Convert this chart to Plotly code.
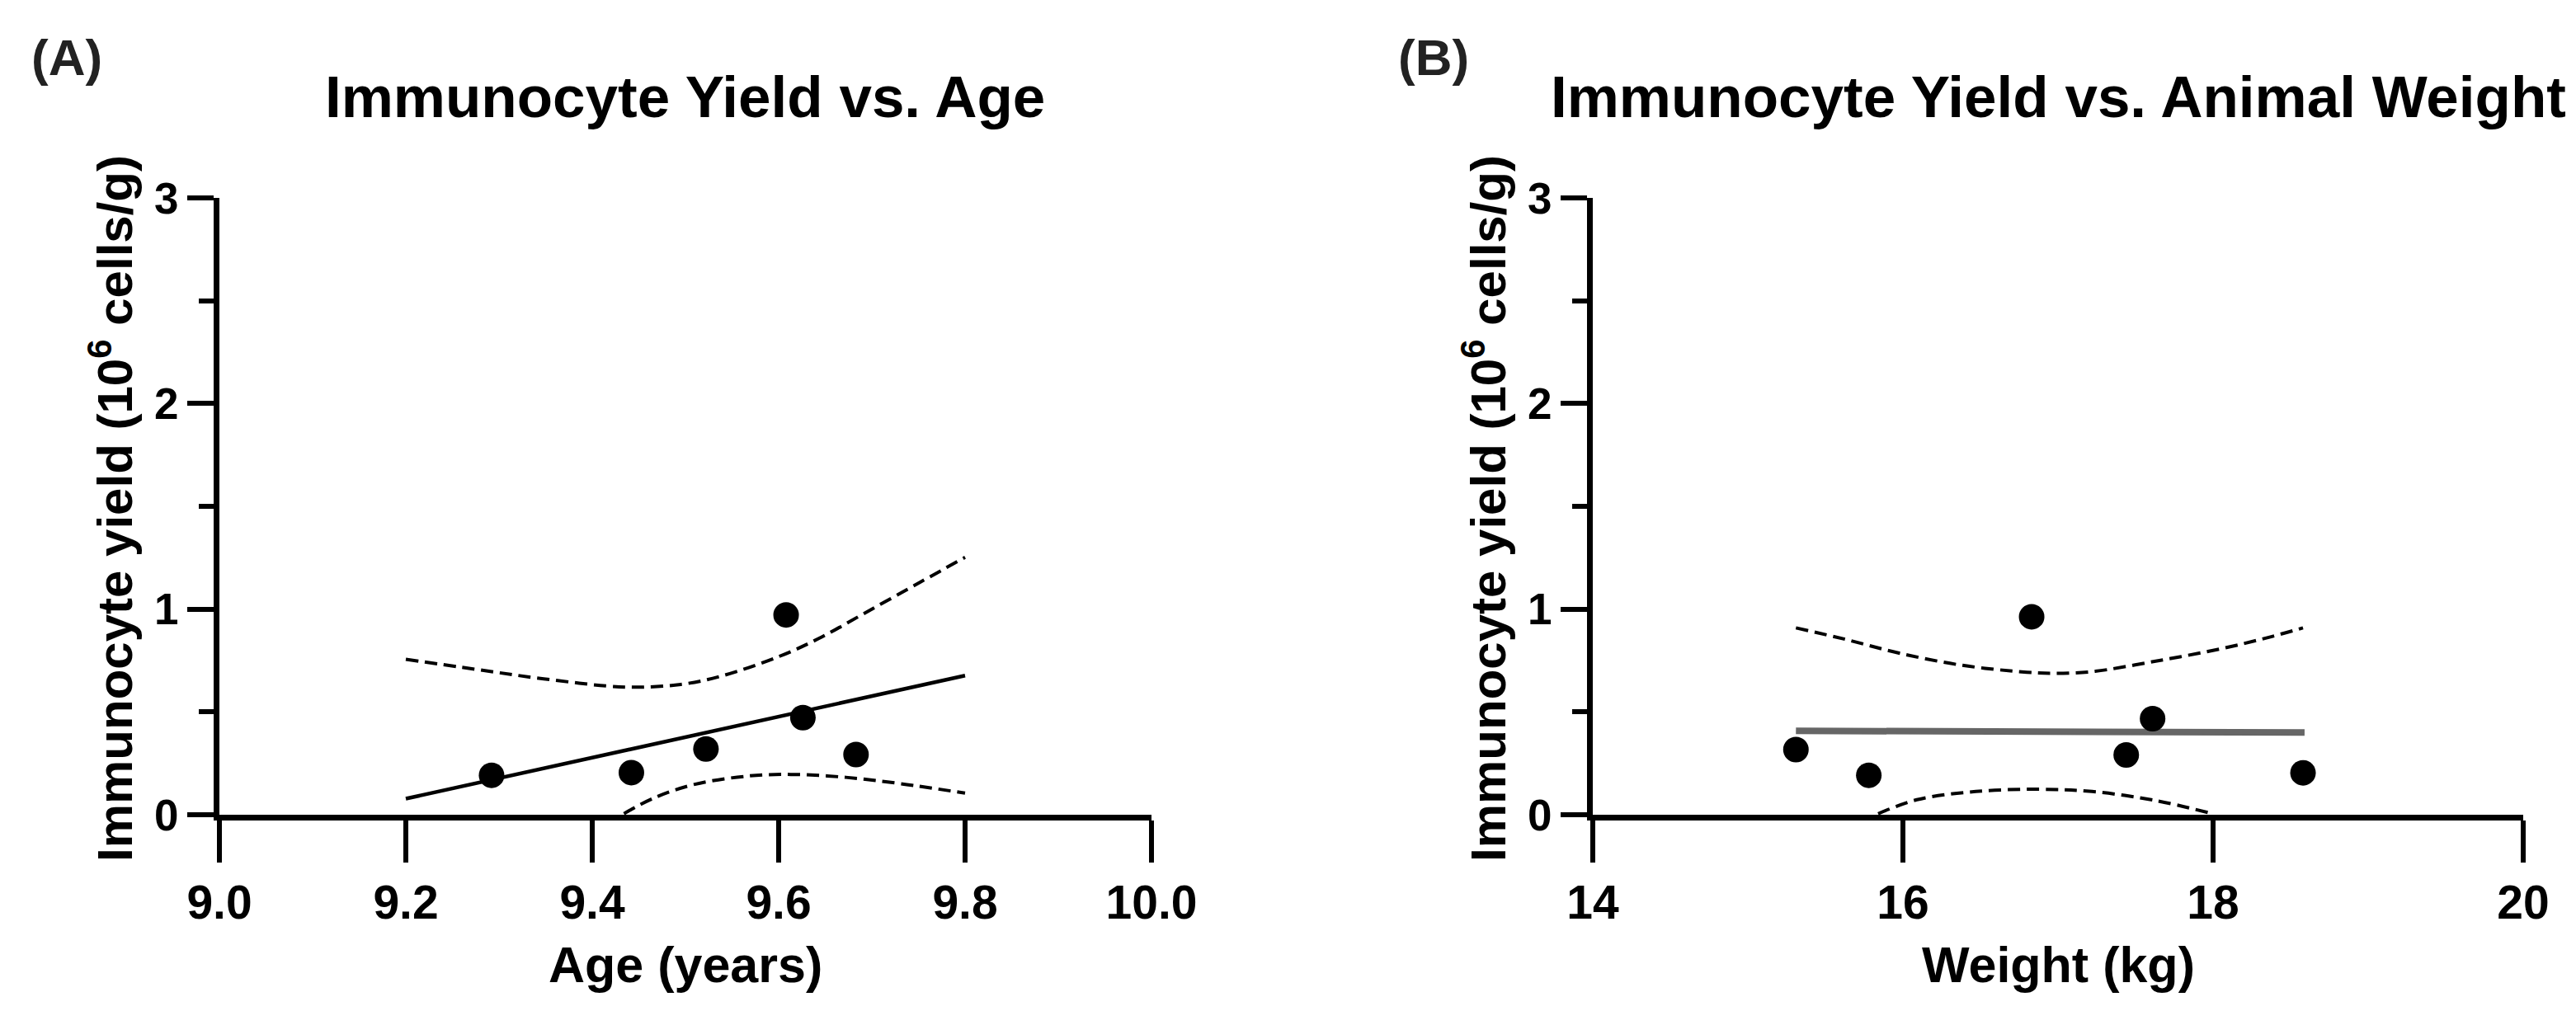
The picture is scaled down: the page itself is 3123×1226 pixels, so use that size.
import plotly.graph_objects as go

# ---------------- data ----------------
age_years = [9.292, 9.442, 9.522, 9.608, 9.626, 9.683]
age_yield = [0.192, 0.205, 0.320, 0.972, 0.472, 0.293]

age_fit_x = [9.2, 9.8]
age_fit_y = [0.078, 0.677]

age_upper_x = [9.20, 9.274, 9.348, 9.436, 9.495, 9.539, 9.60, 9.643, 9.694, 9.753, 9.80]
age_upper_y = [0.756, 0.708, 0.661, 0.621, 0.634, 0.675, 0.769, 0.857, 0.985, 1.134, 1.252]
age_lower_x = [9.434, 9.466, 9.51, 9.569, 9.613, 9.672, 9.731, 9.80]
age_lower_y = [0.005, 0.081, 0.148, 0.189, 0.196, 0.182, 0.151, 0.105]

weight_kg = [15.31, 15.78, 16.83, 17.44, 17.61, 18.58]
weight_yield = [0.317, 0.192, 0.963, 0.291, 0.467, 0.204]

weight_fit_x = [15.31, 18.59]
weight_fit_y = [0.408, 0.400]

weight_upper_x = [15.31, 15.63, 15.97, 16.38, 16.80, 16.97, 17.22, 17.63, 18.05, 18.38, 18.58]
weight_upper_y = [0.909, 0.853, 0.787, 0.727, 0.693, 0.688, 0.696, 0.747, 0.807, 0.867, 0.909]
weight_lower_x = [15.84, 16.09, 16.47, 16.88, 17.22, 17.63, 17.97]
weight_lower_y = [0.005, 0.073, 0.113, 0.124, 0.113, 0.069, 0.010]

age_ticks = [9.0, 9.2, 9.4, 9.6, 9.8, 10.0]
weight_ticks = [14, 16, 18, 20]
yield_ticks = [0, 1, 2, 3]

titles = ["Immunocyte Yield vs. Age", "Immunocyte Yield vs. Animal Weight"]
panel_labels = ["(A)", "(B)"]
x_titles = ["Age (years)", "Weight (kg)"]
y_title = "Immunocyte yield (10<sup>6</sup> cells/g)"

# ---------------- figure ----------------
W, H = 3123, 1226
FONT = "Liberation Sans"

fig = go.Figure()

def add_panel(xs, ys, fx, fy, ux, uy, lx, ly, xa, ya, fit_color, fit_width):
    dash = "15px,8px"
    fig.add_trace(go.Scatter(x=ux, y=uy, mode="lines", line=dict(color="black", width=4, dash=dash, shape="spline"),
                             xaxis=xa, yaxis=ya, showlegend=False, hoverinfo="skip"))
    fig.add_trace(go.Scatter(x=lx, y=ly, mode="lines", line=dict(color="black", width=4, dash=dash, shape="spline"),
                             xaxis=xa, yaxis=ya, showlegend=False, hoverinfo="skip"))
    fig.add_trace(go.Scatter(x=fx, y=fy, mode="lines", line=dict(color=fit_color, width=fit_width),
                             xaxis=xa, yaxis=ya, showlegend=False, hoverinfo="skip"))
    fig.add_trace(go.Scatter(x=xs, y=ys, mode="markers", marker=dict(color="black", size=31, symbol="circle"),
                             xaxis=xa, yaxis=ya, showlegend=False))

add_panel(age_years, age_yield, age_fit_x, age_fit_y, age_upper_x, age_upper_y,
          age_lower_x, age_lower_y, "x", "y", "black", 4.5)
add_panel(weight_kg, weight_yield, weight_fit_x, weight_fit_y, weight_upper_x, weight_upper_y,
          weight_lower_x, weight_lower_y, "x2", "y2", "#666666", 8)

y_dom = [1 - 980 / H, 1 - 232 / H]
xA_dom = [258 / W, 1388 / W]
xB_dom = [1923 / W, 3051 / W]

common_x = dict(showline=True, linewidth=7, linecolor="black", ticks="outside", ticklen=51, tickwidth=6,
                tickcolor="black", showgrid=False, zeroline=False, automargin=False,
                tickfont=dict(family=FONT, size=57, color="black", weight="bold"))
common_y = dict(showline=True, linewidth=7, linecolor="black", ticks="outside", ticklen=32, tickwidth=6,
                tickcolor="black", showgrid=False, zeroline=False, automargin=False, range=[0, 3],
                tickvals=yield_ticks, ticktext=[str(v) for v in yield_ticks], domain=y_dom,
                minor=dict(dtick=0.5, ticks="outside", ticklen=18, tickwidth=6, tickcolor="black", showgrid=False),
                tickfont=dict(family=FONT, size=53, color="black", weight="bold"))

fig.update_layout(
    width=W, height=H, margin=dict(l=0, r=0, t=0, b=0),
    paper_bgcolor="white", plot_bgcolor="white", showlegend=False,
    xaxis=dict(domain=xA_dom, range=[9.0, 10.0], tickvals=age_ticks,
               ticktext=[f"{v:.1f}" for v in age_ticks], anchor="y", **common_x),
    yaxis=dict(anchor="x", **common_y),
    xaxis2=dict(domain=xB_dom, range=[14, 20], tickvals=weight_ticks,
                ticktext=[str(v) for v in weight_ticks], anchor="y2", **common_x),
    yaxis2=dict(anchor="x2", **common_y),
)

ann = []
centers = [(xA_dom[0] + xA_dom[1]) / 2, (xB_dom[0] + xB_dom[1]) / 2]
label_x = [28 / W, 1685 / W]
ytitle_x = [127 / W, 1792 / W]
for i in range(2):
    ann.append(dict(text=titles[i], x=centers[i], y=1 - 110 / H, xref="paper", yref="paper",
                    xanchor="center", yanchor="middle", showarrow=False,
                    font=dict(family=FONT, size=71, color="black", weight="bold")))
    ann.append(dict(text=panel_labels[i], x=label_x[i], y=1 - 62 / H, xref="paper", yref="paper",
                    xanchor="left", yanchor="middle", showarrow=False,
                    font=dict(family=FONT, size=62, color="#222222", weight="bold")))
    ann.append(dict(text=x_titles[i], x=centers[i], y=1 - 1162 / H, xref="paper", yref="paper",
                    xanchor="center", yanchor="middle", showarrow=False,
                    font=dict(family=FONT, size=61, color="black", weight="bold")))
    ann.append(dict(text=y_title, x=ytitle_x[i], y=1 - 609 / H, xref="paper", yref="paper",
                    xanchor="center", yanchor="middle", showarrow=False, textangle=-90,
                    font=dict(family=FONT, size=60, color="black", weight="bold")))
fig.update_layout(annotations=ann)

fig.write_html("out.html")
